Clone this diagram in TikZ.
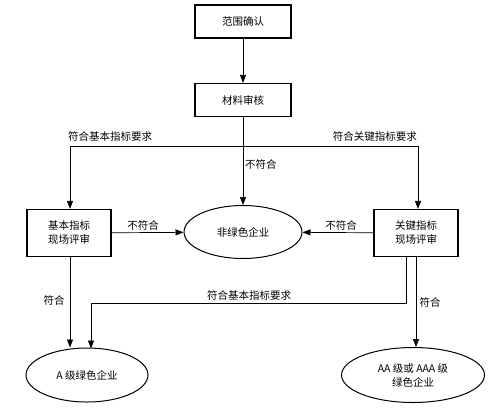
\documentclass[tikz,border=0pt]{standalone}
\usepackage{fontspec}
\newfontfamily\cjk{Noto Sans CJK SC}
\usetikzlibrary{arrows.meta,shapes.geometric,calc}
\tikzstyle{box}=[rectangle,draw=black,line width=1.2pt,inner sep=0pt,
  minimum width=96pt,minimum height=33pt,align=center]
\tikzstyle{sitebox}=[box,minimum width=84pt,minimum height=47pt]
\tikzstyle{oval}=[ellipse,draw=black,line width=1pt,inner sep=0pt,align=center]
\tikzstyle{arr}=[-{Triangle[length=8pt,width=6pt]},line width=0.7pt]
\tikzstyle{none}=[inner sep=0pt]

\begin{document}
\begin{tikzpicture}[x=1pt, y=-1pt,
    every node/.style={font=\cjk\fontsize{10.5}{14}\selectfont}]
            \useasboundingbox (0, 0) rectangle (489, 407);
            \node [style=box] (0) at (243, 21.5) {范围确认};
            \node [style=box] (1) at (243, 100) {材料审核};
            \node [style=oval, minimum width=118pt, minimum height=53pt] (2) at (243, 232) {非绿色企业};
            \node [style=sitebox] (3) at (69, 233) {基本指标\\现场评审};
            \node [style=sitebox] (4) at (416, 233) {关键指标\\现场评审};
            \node [style=oval, minimum width=122pt, minimum height=54pt] (5) at (87, 375) {A 级绿色企业};
            \node [style=oval, minimum width=143pt, minimum height=55pt] (6) at (413, 375) {AA 级或 AAA 级\\绿色企业};
            \coordinate (7) at (70, 146);
            \coordinate (8) at (418, 146);
            \coordinate (9) at (406, 303);
            \coordinate (10) at (91, 303);
            \node [style=none, anchor=west] (11) at (68, 137) {符合基本指标要求};
            \node [style=none, anchor=east] (12) at (417, 137) {符合关键指标要求};
            \node [style=none, anchor=west] (13) at (245, 164) {不符合};
            \node [style=none] (14) at (143, 225) {不符合};
            \node [style=none] (15) at (341, 225) {不符合};
            \node [style=none] (16) at (54, 300) {符合};
            \node [style=none] (17) at (249, 295) {符合基本指标要求};
            \node [style=none] (18) at (430, 302) {符合};
            \draw [style=arr] (0) to (1);
            \draw [style=arr] (1) to (2);
            \draw [line width=0.7pt] (7) to (8);
            \draw [style=arr] (7) to (3.north -| 7);
            \draw [style=arr] (8) to (4.north -| 8);
            \draw [style=arr] (3) to (2);
            \draw [style=arr] (4) to (2);
            \draw [style=arr] (3.south -| 7) to (5.north -| 7);
            \draw [style=arr] (4.south -| 9) to (9) to (10) to ($(5.north -| 10)+(0,1)$);
            \draw [style=arr] (4.south) to (4.south |- 6.north);
    \end{tikzpicture}
\end{document}
